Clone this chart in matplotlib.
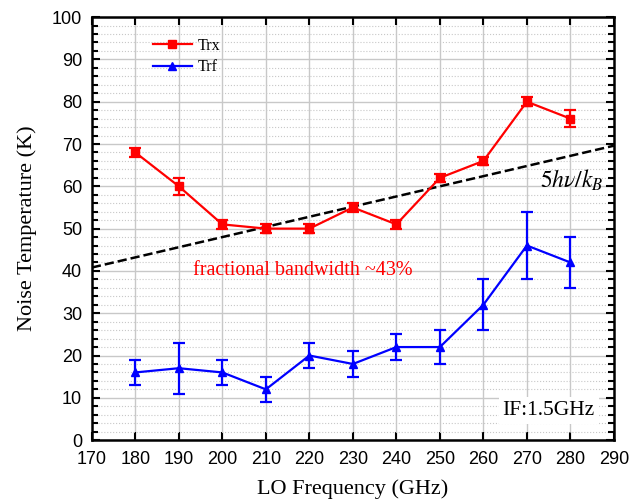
import numpy as np
import matplotlib.pyplot as plt
from matplotlib.ticker import MultipleLocator
from matplotlib.lines import Line2D

plt.rcParams['mathtext.fontset'] = 'stix'

# LO frequencies (GHz)
freq = [180, 190, 200, 210, 220, 230, 240, 250, 260, 270, 280]

# receiver noise temperature and error
trx = [68, 60, 51, 50, 50, 55, 51, 62, 66, 80, 76]
trx_err = [1, 2, 1, 1, 1, 1, 1, 1, 1, 1, 2]

# RF noise temperature and error
trf = [16, 17, 16, 12, 20, 18, 22, 22, 32, 46, 42]
trf_err = [3, 6, 3, 3, 3, 3, 3, 4, 6, 8, 6]

# 5hv/kB reference line end points
qline_x = [170, 290]
qline_y = [40.8, 69.6]

serif = 'Liberation Serif'
sans = 'Liberation Sans'

fig = plt.figure(figsize=(6.29, 5.03), dpi=100)
ax = fig.add_axes([0.146, 0.125, 0.830, 0.841])

ax.errorbar(freq, trx, yerr=trx_err, color='red', marker='s', ms=6,
            lw=1.6, capsize=4, capthick=1.6, elinewidth=1.6, zorder=4)
ax.errorbar(freq, trf, yerr=trf_err, color='blue', marker='^', ms=6,
            lw=1.6, capsize=4, capthick=1.6, elinewidth=1.6, zorder=4)
ax.plot(qline_x, qline_y, 'k--', lw=1.8, zorder=3)

ax.set_xlim(170, 290)
ax.set_ylim(0, 100)
ax.xaxis.set_major_locator(MultipleLocator(10))
ax.yaxis.set_major_locator(MultipleLocator(10))
ax.yaxis.set_minor_locator(MultipleLocator(2))

ax.grid(which='major', color='#c8c8c8', lw=1.0)
ax.yaxis.grid(which='minor', color='#c8c8c8', lw=0.8, ls=':')
ax.set_axisbelow(True)

ax.tick_params(which='both', direction='in', top=True, right=True,
               labelsize=13, width=1.5, pad=7)
ax.tick_params(which='major', length=6)
ax.tick_params(which='minor', length=4)
ax.tick_params(axis='x', pad=8)
for lab in ax.get_xticklabels() + ax.get_yticklabels():
    lab.set_fontfamily(sans)
for sp in ax.spines.values():
    sp.set_linewidth(1.8)

ax.set_xlabel('LO Frequency (GHz)', fontfamily=serif, fontsize=16, labelpad=8)
ax.set_ylabel('Noise Temperature (K)', fontfamily=serif, fontsize=16, labelpad=11)

handles = [Line2D([], [], color='red', marker='s', ms=6, lw=1.6),
           Line2D([], [], color='blue', marker='^', ms=6, lw=1.6)]
ax.legend(handles, ['Trx', 'Trf'], loc='upper left',
          bbox_to_anchor=(0.09, 0.985), frameon=False,
          prop={'family': serif, 'size': 11.5}, handlelength=2.4,
          handletextpad=0.4, labelspacing=0.35)

ax.text(218.5, 40.2, 'fractional bandwidth ~43%', color='red',
        fontfamily=serif, fontsize=14.5, ha='center', va='center')
ax.text(287.6, 64.5, r'$5h\nu/k_B$', fontsize=17, ha='right', va='top')
ax.text(285.6, 7, 'IF:1.5GHz', fontfamily=serif, fontsize=15.5, ha='right',
        va='center', bbox=dict(fc='white', ec='none', pad=3))

fig.savefig('out.png', dpi=100)
